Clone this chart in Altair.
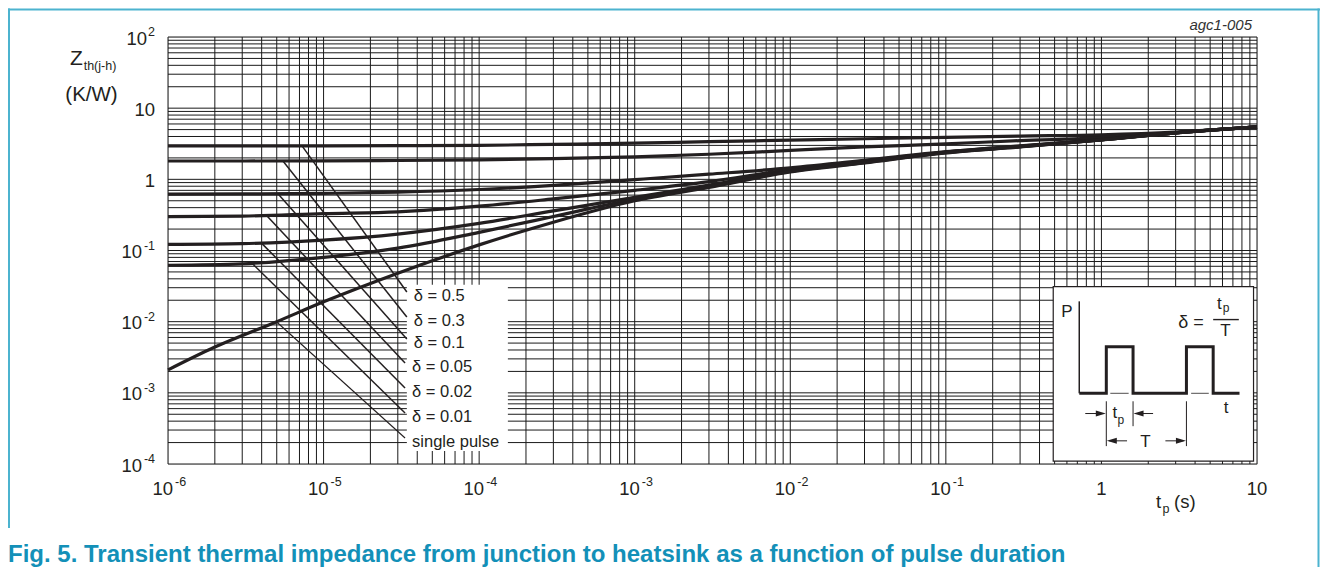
import altair as alt
import pandas as pd
import numpy as np

W, H = 1089, 427
FONT = "Liberation Sans"
INK = "#231f20"
TEAL_TXT = "#1390b8"
TEAL_FRAME = "#4cb3cf"

# ---------------- data ----------------
t_single = [1e-6, 2e-6, 5e-6, 1e-5, 3e-5, 1e-4, 3e-4, 1e-3, 3e-3, 1e-2, 3e-2, 1e-1, 3e-1, 1, 3, 10]
z_single = [0.0021, 0.0044, 0.010, 0.019, 0.048, 0.12, 0.25, 0.50, 0.77, 1.27, 1.70, 2.35, 2.85, 3.57, 4.49, 5.45]

t_delta = [1e-6, 3e-6, 1e-5, 3e-5, 1e-4, 3e-4, 1e-3, 3e-3, 1e-2, 3e-2, 1e-1, 3e-1, 1, 3, 10]
z_d050 = [2.95, 2.95, 2.95, 2.97, 3.00, 3.10, 3.22, 3.38, 3.55, 3.72, 3.88, 4.05, 4.22, 4.60, 5.45]
z_d030 = [1.81, 1.81, 1.82, 1.84, 1.88, 1.95, 2.07, 2.25, 2.55, 2.85, 3.15, 3.50, 3.85, 4.55, 5.45]
z_d010 = [0.62, 0.625, 0.635, 0.66, 0.72, 0.82, 0.99, 1.18, 1.45, 1.85, 2.45, 2.95, 3.62, 4.50, 5.45]
z_d005 = [0.30, 0.305, 0.33, 0.35, 0.42, 0.53, 0.70, 0.93, 1.37, 1.79, 2.42, 2.92, 3.60, 4.50, 5.45]
z_d002 = [0.122, 0.125, 0.140, 0.17, 0.24, 0.36, 0.56, 0.83, 1.32, 1.75, 2.39, 2.89, 3.59, 4.50, 5.45]
z_d001 = [0.062, 0.065, 0.080, 0.108, 0.18, 0.30, 0.53, 0.80, 1.29, 1.72, 2.37, 2.87, 3.58, 4.50, 5.45]

labels = ["δ = 0.5", "δ = 0.3", "δ = 0.1", "δ = 0.05", "δ = 0.02", "δ = 0.01", "single pulse"]
lead_t0 = [7.27e-6, 5.48e-6, 5.09e-6, 4.33e-6, 4.02e-6, 3.52e-6, 5.0e-6]
lead_z0 = [2.95, 1.81, 0.625, 0.305, 0.125, 0.064, 0.0099]
lead_t1 = [3.43e-5, 3.43e-5, 3.43e-5, 3.34e-5, 3.34e-5, 3.34e-5, 3.34e-5]
lead_z1 = [0.0261, 0.0116, 0.00571, 0.00263, 0.00117, 0.00052, 0.000232]
lead_w = [1.5, 1.5, 1.5, 1.5, 1.5, 1.5, 1.1]

label_box_t = [3.43e-5, 1.53e-4]
label_box_z = [1.52e-4, 0.033]

x_tick_vals = [1e-6, 1e-5, 1e-4, 1e-3, 1e-2, 1e-1]
x_tick_exp = ["-6", "-5", "-4", "-3", "-2", "-1"]
x_plain_vals = [1, 10]
x_plain_text = ["1", "10"]

y_neg_vals = [1e-1, 1e-2, 1e-3, 1e-4]
y_neg_exp = ["-1", "-2", "-3", "-4"]
y_pos_vals = [100]
y_pos_exp = ["2"]
y_plain_vals = [10, 1]
y_plain_text = ["10", "1"]

x_grid = [m * 10.0 ** e for e in range(-6, 1) for m in range(1, 10)] + [10.0]
y_grid = [m * 10.0 ** e for e in range(-4, 2) for m in range(1, 10)] + [100.0]

# inset (pulse diagram), in its own local units u: 0..200, v: 0..175 (v downward)
inset_t = [0.49, 9.5]
inset_z = [1.1e-4, 0.031]
wave_u = [26, 53, 53, 79.7, 79.7, 133, 133, 159.7, 159.7, 186]
wave_v = [107, 107, 60.3, 60.3, 107, 107, 60.3, 60.3, 107, 107]
seg_u0 = [26, 57, 137.7, 53, 79.7, 133, 32, 99.7, 73.7, 112, 159.7]
seg_v0 = [14.7, 107, 107, 115, 115, 115, 127.3, 127.3, 154.7, 154.7, 33]
seg_u1 = [26, 75.3, 155.3, 53, 79.7, 133, 50, 82, 56, 130, 185.3]
seg_v1 = [107, 107, 107, 160, 140, 160, 127.3, 127.3, 154.7, 154.7, 33]
seg_w = [1.5, 0.8, 0.8, 1, 1, 1, 1, 1, 1, 1, 1.4]
arrow_u = [52.5, 80.2, 53.5, 132.5]
arrow_v = [127.3, 127.3, 154.7, 154.7]
arrow_dir = ["r", "l", "l", "r"]
itext = ["P", "t", "t", "p", "T", "δ =", "t", "p", "T"]
itext_u = [13.7, 172.5, 61.5, 67.5, 92, 137.5, 166, 172.5, 172]
itext_v = [25.3, 122, 127, 133.7, 155.7, 36.3, 17, 21.5, 44]
itext_size = [17, 17, 17, 12, 17, 18, 17, 12, 17]

# ---------------- helpers ----------------
xs = alt.Scale(type="log", domain=[1e-6, 10], nice=False)
ys = alt.Scale(type="log", domain=[1e-4, 100], nice=False)


def X(f):
    return alt.X(f, type="quantitative", scale=xs, axis=None)


def Y(f):
    return alt.Y(f, type="quantitative", scale=ys, axis=None)


lt0, lt1 = np.log10(inset_t[0]), np.log10(inset_t[1])
lz0, lz1 = np.log10(inset_z[0]), np.log10(inset_z[1])


def to_t(u):
    return 10 ** (lt0 + np.asarray(u, dtype=float) / 200.0 * (lt1 - lt0))


def to_z(v):
    return 10 ** (lz1 - np.asarray(v, dtype=float) / 175.0 * (lz1 - lz0))


one = pd.DataFrame({"a": [0]})

# ---------------- layers ----------------
vgrid = alt.Chart(pd.DataFrame({"t": x_grid})).mark_rule(
    color="#1a1a1a", strokeWidth=1).encode(x=X("t"), y=alt.value(0), y2=alt.value(H))
hgrid = alt.Chart(pd.DataFrame({"z": y_grid})).mark_rule(
    color="#1a1a1a", strokeWidth=1).encode(y=Y("z"), x=alt.value(0), x2=alt.value(W))

label_box = alt.Chart(pd.DataFrame({
    "t0": [label_box_t[0]], "t1": [label_box_t[1]],
    "z0": [label_box_z[0]], "z1": [label_box_z[1]]})).mark_rect(
    fill="white", stroke=None).encode(x=X("t0"), x2="t1", y=Y("z0"), y2="z1")

inset_box = alt.Chart(pd.DataFrame({
    "t0": [inset_t[0]], "t1": [inset_t[1]],
    "z0": [inset_z[0]], "z1": [inset_z[1]]})).mark_rect(
    fill="white", stroke=INK, strokeWidth=1.2).encode(x=X("t0"), x2="t1", y=Y("z0"), y2="z1")

rows = []
for name, zs in [("0.5", z_d050), ("0.3", z_d030), ("0.1", z_d010),
                 ("0.05", z_d005), ("0.02", z_d002), ("0.01", z_d001)]:
    for t, z in zip(t_delta, zs):
        rows.append({"t": t, "z": z, "s": name})
for t, z in zip(t_single, z_single):
    rows.append({"t": t, "z": z, "s": "single"})
curves = alt.Chart(pd.DataFrame(rows)).mark_line(
    color=INK, strokeWidth=3.2, interpolate="monotone").encode(
    x=X("t"), y=Y("z"), detail="s:N")

lead_df = pd.DataFrame({"t0": lead_t0, "z0": lead_z0, "t1": lead_t1, "z1": lead_z1,
                        "w": lead_w, "lab": labels})
leaders = alt.Chart(lead_df).mark_rule(color=INK).encode(
    x=X("t0"), y=Y("z0"), x2="t1", y2="z1",
    strokeWidth=alt.StrokeWidth("w:Q", scale=None, legend=None))
lead_text = alt.Chart(lead_df).mark_text(
    align="left", baseline="middle", dx=7, dy=4, font=FONT, fontSize=16.5, color=INK).encode(
    x=X("t1"), y=Y("z1"), text="lab:N")

# inset drawing
wave = alt.Chart(pd.DataFrame({"t": to_t(wave_u), "z": to_z(wave_v), "i": range(len(wave_u))})).mark_line(
    color=INK, strokeWidth=3, strokeJoin="miter").encode(x=X("t"), y=Y("z"), order="i:Q")
segs = alt.Chart(pd.DataFrame({"t0": to_t(seg_u0), "z0": to_z(seg_v0),
                               "t1": to_t(seg_u1), "z1": to_z(seg_v1), "w": seg_w})).mark_rule(
    color=INK).encode(x=X("t0"), y=Y("z0"), x2="t1", y2="z1",
                      strokeWidth=alt.StrokeWidth("w:Q", scale=None, legend=None))
adf = pd.DataFrame({"t": to_t(arrow_u), "z": to_z(arrow_v), "d": arrow_dir})
arr_r = alt.Chart(adf).transform_filter(alt.datum.d == "r").mark_point(
    shape="M0,0 L-2,-0.6 L-2,0.6 Z", filled=True, color=INK, opacity=1, size=100).encode(
    x=X("t"), y=Y("z"))
arr_l = alt.Chart(adf).transform_filter(alt.datum.d == "l").mark_point(
    shape="M0,0 L2,-0.6 L2,0.6 Z", filled=True, color=INK, opacity=1, size=100).encode(
    x=X("t"), y=Y("z"))
itx = alt.Chart(pd.DataFrame({"t": to_t(itext_u), "z": to_z(itext_v), "s": itext,
                              "fs": itext_size})).mark_text(
    align="center", baseline="middle", font=FONT, color=INK).encode(
    x=X("t"), y=Y("z"), text="s:N", size=alt.Size("fs:Q", scale=None, legend=None))

# x tick labels
xdf = pd.DataFrame({"t": x_tick_vals, "e": x_tick_exp, "b": ["10"] * len(x_tick_vals)})
xbase = alt.Chart(xdf).mark_text(align="right", baseline="middle", dx=5, font=FONT,
                                 fontSize=18.5, color=INK).encode(
    x=X("t"), y=alt.value(H + 25), text="b:N")
xexp = alt.Chart(xdf).mark_text(align="left", baseline="middle", dx=7, font=FONT,
                                fontSize=12.5, color=INK).encode(
    x=X("t"), y=alt.value(H + 18), text="e:N")
xplain = alt.Chart(pd.DataFrame({"t": x_plain_vals, "s": x_plain_text})).mark_text(
    align="center", baseline="middle", font=FONT, fontSize=18.5, color=INK).encode(
    x=X("t"), y=alt.value(H + 25), text="s:N")

# y tick labels
yneg = pd.DataFrame({"z": y_neg_vals, "e": y_neg_exp, "b": ["10"] * len(y_neg_vals)})
ypos = pd.DataFrame({"z": y_pos_vals, "e": y_pos_exp, "b": ["10"] * len(y_pos_vals)})
ytxt = dict(baseline="middle", font=FONT, color=INK)
yneg_b = alt.Chart(yneg).mark_text(align="right", dy=1.5, fontSize=18.5, **ytxt).encode(
    x=alt.value(-26), y=Y("z"), text="b:N")
yneg_e = alt.Chart(yneg).mark_text(align="right", dy=-5, fontSize=12.5, **ytxt).encode(
    x=alt.value(-13), y=Y("z"), text="e:N")
ypos_b = alt.Chart(ypos).mark_text(align="right", dy=1.5, fontSize=18.5, **ytxt).encode(
    x=alt.value(-21), y=Y("z"), text="b:N")
ypos_e = alt.Chart(ypos).mark_text(align="right", dy=-5, fontSize=12.5, **ytxt).encode(
    x=alt.value(-13), y=Y("z"), text="e:N")
yplain = alt.Chart(pd.DataFrame({"z": y_plain_vals, "s": y_plain_text})).mark_text(
    align="right", dy=1.5, fontSize=18.5, **ytxt).encode(
    x=alt.value(-13), y=Y("z"), text="s:N")


def txt(s, x, y, size, align="left", baseline="middle", **kw):
    return alt.Chart(one).mark_text(align=align, baseline=baseline, font=FONT,
                                    fontSize=size, color=kw.pop("color", INK), **kw).encode(
        x=alt.value(x), y=alt.value(y), text=alt.value(s))


titles = [
    txt("Z", -91.5, 22, 21, align="center"),
    txt("th(j-h)", -68, 29, 12.5, align="center"),
    txt("(K/W)", -76.5, 58, 20.5, align="center"),
    txt("t", 988, 471, 18.5, baseline="alphabetic"),
    txt("p", 994.5, 476, 12.5, baseline="alphabetic"),
    txt("(s)", 1006, 471, 18.5, baseline="alphabetic"),
    txt("agc1-005", 1084, -12, 15, align="right", fontStyle="italic", color="#333333"),
    txt("Fig. 5. Transient thermal impedance from junction to heatsink as a function of pulse duration",
        -160, 525, 24, baseline="alphabetic", fontWeight="bold", color=TEAL_TXT),
]

frame = [
    alt.Chart(one).mark_rule(color=TEAL_FRAME, strokeWidth=2).encode(
        x=alt.value(-160), x2=alt.value(1152), y=alt.value(-27.5)),
    alt.Chart(one).mark_rule(color=TEAL_FRAME, strokeWidth=2).encode(
        x=alt.value(-159), y=alt.value(-28.5), y2=alt.value(491)),
    alt.Chart(one).mark_rule(color=TEAL_FRAME, strokeWidth=2).encode(
        x=alt.value(1150.5), y=alt.value(-28.5), y2=alt.value(535)),
]

chart = alt.layer(
    vgrid, hgrid, label_box, inset_box, curves, leaders, lead_text,
    wave, segs, arr_r, arr_l, itx,
    xbase, xexp, xplain, yneg_b, yneg_e, ypos_b, ypos_e, yplain,
    *titles, *frame
).properties(
    width=W, height=H,
    autosize=alt.AutoSizeParams(type="none"),
    padding={"left": 160, "top": 29, "right": 63, "bottom": 103},
).configure_view(stroke=None).configure(background="white")

chart.save("out.html", embed_options={"renderer": "svg", "actions": False})
